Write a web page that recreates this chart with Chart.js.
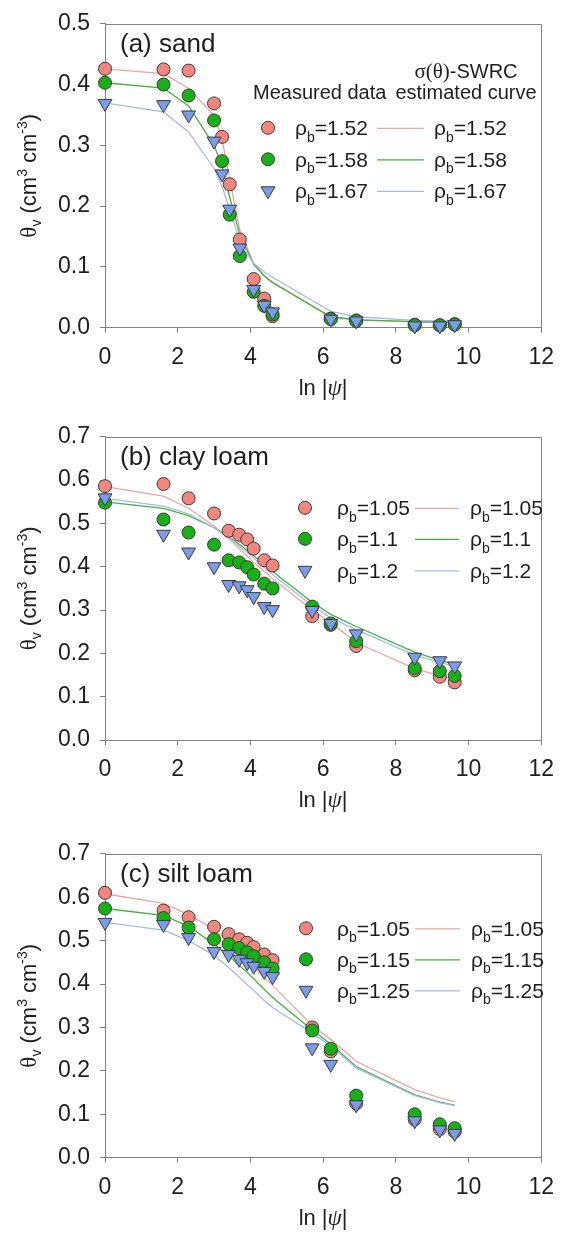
<!DOCTYPE html>
<html>
<head>
<meta charset="utf-8">
<script src="https://cdn.jsdelivr.net/npm/chart.js@4.4.1/dist/chart.umd.min.js"></script>
<style>
  html, body { margin: 0; padding: 0; background: #fff; }
  body { width: 565px; height: 1241px; position: relative; overflow: hidden; }
  canvas { position: absolute; left: 0; }
</style>
</head>
<body>
<canvas id="panel-a" width="565" height="413" style="top:0px"></canvas>
<canvas id="panel-b" width="565" height="413" style="top:413px"></canvas>
<canvas id="panel-c" width="565" height="411" style="top:830px"></canvas>
<script>
// ln|psi| of the measuring points
const lnPsiSand = [0, 1.61, 2.30, 3.00, 3.22, 3.43, 3.71, 4.09, 4.38, 4.61, 6.21, 6.91, 8.52, 9.21, 9.62];
const lnPsiLoam = [0, 1.61, 2.30, 3.00, 3.40, 3.69, 3.91, 4.09, 4.38, 4.61, 5.70, 6.21, 6.91, 8.52, 9.21, 9.62];

// (a) sand
const sandDensity = ['1.52', '1.58', '1.67'];
const sandObs152 = [0.426, 0.425, 0.423, 0.369, 0.314, 0.236, 0.145, 0.080, 0.048, 0.019, 0.015, 0.012, 0.005, 0.004, 0.006];
const sandObs158 = [0.403, 0.400, 0.382, 0.341, 0.274, 0.186, 0.118, 0.059, 0.036, 0.022, 0.014, 0.011, 0.004, 0.004, 0.005];
const sandObs167 = [0.369, 0.367, 0.350, 0.307, 0.253, 0.195, 0.131, 0.063, 0.037, 0.026, 0.014, 0.011, 0.003, 0.003, 0.005];
const sandFit152 = [0.426, 0.418, 0.394, 0.349, 0.310, 0.245, 0.160, 0.106, 0.086, 0.075, 0.018, 0.013, 0.010, 0.009, 0.009];
const sandFit158 = [0.403, 0.394, 0.365, 0.300, 0.266, 0.215, 0.152, 0.104, 0.085, 0.074, 0.018, 0.013, 0.010, 0.009, 0.009];
const sandFit167 = [0.370, 0.355, 0.322, 0.262, 0.232, 0.196, 0.140, 0.106, 0.092, 0.083, 0.027, 0.018, 0.012, 0.011, 0.011];

// (b) clay loam
const clayDensity = ['1.05', '1.1', '1.2'];
const clayObs105 = [0.586, 0.591, 0.558, 0.523, 0.483, 0.474, 0.463, 0.442, 0.415, 0.403, 0.286, 0.266, 0.217, 0.161, 0.146, 0.133];
const clayObs110 = [0.548, 0.509, 0.479, 0.451, 0.415, 0.410, 0.399, 0.382, 0.361, 0.350, 0.308, 0.269, 0.228, 0.166, 0.159, 0.148];
const clayObs120 = [0.559, 0.475, 0.434, 0.400, 0.359, 0.356, 0.347, 0.331, 0.308, 0.301, 0.299, 0.269, 0.245, 0.191, 0.183, 0.171];
const clayFit105 = [0.585, 0.563, 0.535, 0.494, 0.466, 0.442, 0.425, 0.410, 0.390, 0.372, 0.300, 0.271, 0.225, 0.165, 0.148, 0.140];
const clayFit110 = [0.550, 0.535, 0.518, 0.490, 0.470, 0.452, 0.438, 0.426, 0.405, 0.389, 0.318, 0.290, 0.262, 0.203, 0.184, 0.175];
const clayFit120 = [0.558, 0.540, 0.522, 0.490, 0.468, 0.448, 0.433, 0.420, 0.398, 0.382, 0.310, 0.282, 0.255, 0.196, 0.179, 0.170];

// (c) silt loam
const siltDensity = ['1.05', '1.15', '1.25'];
const siltObs105 = [0.610, 0.569, 0.554, 0.532, 0.515, 0.503, 0.495, 0.485, 0.468, 0.455, 0.300, 0.245, 0.125, 0.088, 0.066, 0.060];
const siltObs115 = [0.574, 0.552, 0.530, 0.503, 0.492, 0.483, 0.473, 0.464, 0.450, 0.436, 0.293, 0.251, 0.143, 0.100, 0.077, 0.068];
const siltObs125 = [0.542, 0.537, 0.507, 0.475, 0.468, 0.457, 0.449, 0.441, 0.429, 0.417, 0.253, 0.215, 0.122, 0.085, 0.064, 0.056];
const siltFit105 = [0.608, 0.586, 0.560, 0.526, 0.497, 0.474, 0.455, 0.440, 0.415, 0.397, 0.305, 0.272, 0.222, 0.157, 0.138, 0.129];
const siltFit115 = [0.574, 0.558, 0.533, 0.492, 0.465, 0.443, 0.427, 0.412, 0.388, 0.369, 0.294, 0.262, 0.210, 0.145, 0.128, 0.121];
const siltFit125 = [0.542, 0.524, 0.500, 0.466, 0.438, 0.416, 0.399, 0.385, 0.362, 0.346, 0.287, 0.257, 0.207, 0.143, 0.127, 0.120];

// axis ranges
const xRange = [0, 12];
const xStep = 2;
const yStep = 0.1;

const SANS = '"Liberation Sans", Arial, sans-serif';
const SERIF = '"Liberation Serif", "Times New Roman", serif';
const AXIS_GREY = '#808080';
const TEXT = '#1e1e1e';

const styles = [
    { fill: '#f2867f', line: '#f2a4a0', pointStyle: 'circle', radius: 6.5, rotation: 0 },
    { fill: '#17b017', line: '#3db53d', pointStyle: 'circle', radius: 6.5, rotation: 0 },
    { fill: '#7b9ceb', line: '#a7baee', pointStyle: 'triangle', radius: 8, rotation: 180 }
];

function font(size, family, style) {
    return (style ? style + ' ' : '') + size + 'px ' + family;
}

// draws a run of text pieces with their own fonts and baseline shifts
function drawRich(ctx, parts, x, y, align) {
    let total = 0;
    for (const p of parts) {
        ctx.font = p.f;
        p.w = ctx.measureText(p.t).width;
        total += p.w;
    }
    let cx = x;
    if (align === 'center') cx = x - total / 2;
    if (align === 'right') cx = x - total;
    ctx.textAlign = 'left';
    ctx.textBaseline = 'alphabetic';
    for (const p of parts) {
        ctx.font = p.f;
        ctx.fillText(p.t, cx, y + (p.dy || 0));
        cx += p.w;
    }
}

function rhoLabel(value, size) {
    return [
        { t: 'ρ', f: font(size, SANS) },
        { t: 'b', f: font(Math.round(size * 0.66), SANS), dy: size * 0.3 },
        { t: '=' + value, f: font(size, SANS) }
    ];
}

function drawMarker(ctx, st, x, y) {
    ctx.fillStyle = st.fill;
    ctx.strokeStyle = '#3a3a3a';
    ctx.lineWidth = 1;
    Chart.helpers.drawPoint(ctx, {
        pointStyle: st.pointStyle, radius: st.radius, rotation: st.rotation, borderWidth: 1
    }, x, y);
}

function decor(cfg) {
    return {
        id: 'decor',
        beforeDatasetsDraw(chart) {
            const ctx = chart.ctx, a = chart.chartArea;
            ctx.save();
            ctx.strokeStyle = AXIS_GREY;
            ctx.lineWidth = 1;
            ctx.beginPath();
            ctx.moveTo(Math.round(a.left) + 0.5, Math.round(a.top) + 0.5);
            ctx.lineTo(Math.round(a.right) + 0.5, Math.round(a.top) + 0.5);
            ctx.lineTo(Math.round(a.right) + 0.5, Math.round(a.bottom) + 0.5);
            ctx.stroke();
            ctx.restore();
        },
        afterDraw(chart) {
            const ctx = chart.ctx, a = chart.chartArea;
            ctx.save();
            ctx.fillStyle = TEXT;

            // panel label
            drawRich(ctx, [{ t: cfg.label, f: font(26, SANS) }], a.left + 15, a.top + 28, 'left');

            // y axis title
            ctx.save();
            ctx.translate(36, (a.top + a.bottom) / 2);
            ctx.rotate(-Math.PI / 2);
            drawRich(ctx, [
                { t: 'θ', f: font(23, SERIF) },
                { t: 'v', f: font(14, SANS), dy: 5 },
                { t: ' (cm', f: font(22, SANS) },
                { t: '3', f: font(14, SANS), dy: -9 },
                { t: ' cm', f: font(22, SANS) },
                { t: '-3', f: font(14, SANS), dy: -9 },
                { t: ')', f: font(22, SANS) }
            ], 0, 0, 'center');
            ctx.restore();

            // x axis title
            drawRich(ctx, [
                { t: 'ln |', f: font(22, SANS) },
                { t: 'ψ', f: font(23, SERIF, 'italic') },
                { t: '|', f: font(22, SANS) }
            ], (a.left + a.right) / 2, a.bottom + 67, 'center');

            // legend
            const lg = cfg.legend;
            if (lg.header) {
                drawRich(ctx, [{ t: 'Measured data', f: font(20, SANS) }], a.left + lg.header.measuredX, a.top + lg.header.row2, 'left');
                drawRich(ctx, [{ t: 'estimated curve', f: font(20, SANS) }], a.left + lg.header.curveX, a.top + lg.header.row2, 'center');
                drawRich(ctx, [
                    { t: 'σ(θ)', f: font(21, SERIF) },
                    { t: '-SWRC', f: font(20, SANS) }
                ], a.left + lg.header.curveX, a.top + lg.header.row1, 'center');
            }
            for (let i = 0; i < 3; i++) {
                const y = a.top + lg.rows[i];
                drawMarker(ctx, styles[i], a.left + lg.markerX, y);
                ctx.fillStyle = TEXT;
                drawRich(ctx, rhoLabel(cfg.density[i], 21), a.left + lg.textX, y + 7.5, 'left');
                ctx.strokeStyle = styles[i].line;
                ctx.lineWidth = 1.3;
                ctx.beginPath();
                ctx.moveTo(a.left + lg.lineX[0], y + 0.5);
                ctx.lineTo(a.left + lg.lineX[1], y + 0.5);
                ctx.stroke();
                drawRich(ctx, rhoLabel(cfg.density[i], 21), a.left + lg.text2X, y + 7.5, 'left');
            }
            ctx.restore();
        }
    };
}

function points(xs, ys) {
    return xs.map((x, i) => ({ x: x, y: ys[i] }));
}

function buildPanel(id, cfg) {
    const datasets = [];
    // measured points on top (first dataset is painted last)
    for (const i of [2, 1, 0]) {
        const st = styles[i];
        datasets.push({
            data: points(cfg.x, cfg.obs[i]),
            showLine: false,
            pointStyle: st.pointStyle,
            pointRotation: st.rotation,
            pointRadius: st.radius,
            pointBackgroundColor: st.fill,
            pointBorderColor: '#3a3a3a',
            pointBorderWidth: 1,
            clip: false
        });
    }
    for (const i of [2, 1, 0]) {
        datasets.push({
            data: points(cfg.x, cfg.fit[i]),
            showLine: true,
            borderColor: styles[i].line,
            borderWidth: 1.3,
            pointRadius: 0,
            tension: 0,
            clip: false
        });
    }

    const canvas = document.getElementById(id);
    new Chart(canvas, {
        type: 'scatter',
        data: { datasets: datasets },
        options: {
            responsive: false,
            animation: false,
            devicePixelRatio: 1,
            layout: { padding: { top: 15.5, right: 15, bottom: 0, left: 0 } },
            plugins: { legend: { display: false }, tooltip: { enabled: false } },
            scales: {
                x: {
                    type: 'linear',
                    min: xRange[0],
                    max: xRange[1],
                    ticks: { stepSize: xStep, color: TEXT, padding: 11, maxRotation: 0, font: { family: SANS, size: 23 } },
                    grid: { drawOnChartArea: false, drawTicks: true, tickLength: 5, color: AXIS_GREY },
                    border: { display: true, color: AXIS_GREY, width: 1 },
                    afterFit(scale) { scale.height = canvas.height - cfg.bottom; }
                },
                y: {
                    type: 'linear',
                    min: 0,
                    max: cfg.yMax,
                    ticks: {
                        stepSize: yStep, color: TEXT, padding: 10, font: { family: SANS, size: 23 },
                        callback: v => v.toFixed(1)
                    },
                    grid: { drawOnChartArea: false, drawTicks: true, tickLength: 5, color: AXIS_GREY },
                    border: { display: true, color: AXIS_GREY, width: 1 },
                    afterFit(scale) { scale.width = 105; }
                }
            }
        },
        plugins: [decor(cfg)]
    });
}

buildPanel('panel-a', {
    label: '(a) sand',
    x: lnPsiSand,
    obs: [sandObs152, sandObs158, sandObs167],
    fit: [sandFit152, sandFit158, sandFit167],
    density: sandDensity,
    yMax: 0.5,
    bottom: 327.7,
    legend: {
        header: { measuredX: 148, curveX: 361, row1: 54, row2: 75 },
        markerX: 163, textX: 190, lineX: [272, 319], text2X: 329,
        rows: [104, 135.5, 167]
    }
});

buildPanel('panel-b', {
    label: '(b) clay loam',
    x: lnPsiLoam,
    obs: [clayObs105, clayObs110, clayObs120],
    fit: [clayFit105, clayFit110, clayFit120],
    density: clayDensity,
    yMax: 0.7,
    bottom: 327,
    legend: {
        markerX: 200, textX: 232, lineX: [310, 354], text2X: 365,
        rows: [71, 102, 133.5]
    }
});

buildPanel('panel-c', {
    label: '(c) silt loam',
    x: lnPsiLoam,
    obs: [siltObs105, siltObs115, siltObs125],
    fit: [siltFit105, siltFit115, siltFit125],
    density: siltDensity,
    yMax: 0.7,
    bottom: 327.7,
    legend: {
        markerX: 201, textX: 232, lineX: [310, 355], text2X: 366,
        rows: [74.5, 105.5, 136.5]
    }
});
</script>
</body>
</html>
